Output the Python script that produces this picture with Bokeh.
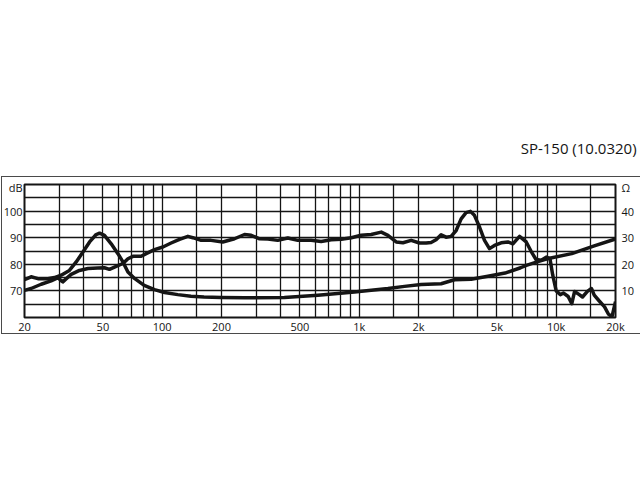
from bokeh.plotting import figure
from bokeh.models import FixedTicker, LinearAxis, Range1d, InlineStyleSheet
from bokeh.embed import file_html
from bokeh.resources import INLINE

# ---- data ----
spl_freq = [20, 21.6, 24.3, 27.3, 29.6, 30.5, 31.3, 32.6, 34.5, 38.0, 42, 47.1, 50.9,
            54.0, 58.4, 63.2, 67, 71, 78.2, 82.9, 91.4, 100.8, 111, 122.4, 135, 143,
            157.7, 177, 203, 232.8, 261.7, 283, 312, 344, 386, 434, 488, 570, 641,
            721, 811, 912, 1023, 1150, 1294, 1399, 1541, 1667, 1836, 2023, 2188,
            2317, 2455, 2605, 2761, 2928, 3105, 3292, 3487, 3670, 3846, 4082, 4326,
            4584, 4861, 5256, 5686, 6029, 6516, 7045, 7470, 7900, 8400, 8900, 9300,
            9600, 10000, 10500, 10900, 11500, 12000, 12400, 13100, 13600, 14400,
            15100, 15600, 16500, 17600, 18400, 19200, 20000]
spl_db = [70.2, 70.9, 72.5, 73.8, 75.0, 74.0, 73.4, 74.6, 76.2, 77.7, 78.4, 78.6, 78.7,
          78.1, 79.2, 80.3, 82.1, 83.0, 83.0, 84.0, 85.5, 86.5, 88.0, 89.4, 90.5, 90.0,
          89.0, 89.0, 88.4, 89.6, 91.2, 90.9, 89.6, 89.5, 89.0, 89.9, 89.0, 89.0, 88.6,
          89.2, 89.4, 90.0, 90.9, 91.2, 92.1, 90.9, 88.4, 88.1, 89.0, 88.0, 88.0,
          88.2, 89.2, 91.1, 90.2, 90.5, 92.7, 97.1, 99.4, 99.9, 98.4, 94.0, 89.0,
          85.9, 87.1, 88.1, 88.4, 87.7, 90.5, 88.4, 84.8, 81.8, 81.5, 82.7, 82.1,
          76.0, 70.0, 68.6, 69.2, 67.9, 65.2, 69.8, 68.6, 67.7, 69.8,
          70.9, 68.4, 66.3, 64.0, 61.3, 60.3, 66.0]

imp_freq = [20, 21.6, 23.4, 26.3, 28.4, 30.7, 33.8, 36.6, 39.6, 42.8, 46.2, 48.1, 50.9,
            55.1, 59.6, 63.2, 67, 72.6, 81, 91.4, 102.8, 120, 140, 163, 199, 262, 417,
            617, 947, 1399, 1698, 2061, 2605, 3047, 3700, 4500, 5500, 6600, 7050, 8000,
            9000, 12000, 15600, 20000]
imp_ohm = [14.2, 15.3, 14.6, 14.6, 15.0, 15.9, 17.7, 20.9, 24.6, 28.4, 31.2, 31.7, 30.9,
           27.7, 24.0, 20.9, 17.1, 14.6, 12.1, 10.5, 9.4, 8.6, 8.0, 7.7, 7.5, 7.4, 7.5,
           8.4, 9.6, 10.9, 11.7, 12.4, 12.7, 14.2, 14.4, 15.5, 16.7, 18.7, 19.6, 20.9,
           22.1, 24.0, 26.9, 29.5]

x_tick_values = [20, 50, 100, 200, 500, 1000, 2000, 5000, 10000, 20000]
x_tick_labels = ["20", "50", "100", "200", "500", "1k", "2k", "5k", "10k", "20k"]
x_grid_values = [20, 30, 40, 50, 60, 70, 80, 90, 100, 150,
                 200, 300, 400, 500, 600, 700, 800, 900, 1000, 1500,
                 2000, 3000, 4000, 5000, 6000, 7000, 8000, 9000, 10000, 15000, 20000]
db_tick_values = [70, 80, 90, 100]
db_grid_values = [65, 70, 75, 80, 85, 90, 95, 100, 105]
ohm_tick_values = [10, 20, 30, 40]
db_unit_label = "dB"
ohm_unit_label = "Ω"
title_text = "SP-150  (10.0320)"

FONT = "Open Sans"
INK = "#151515"

# thin outer frame around the chart body (drawn with CSS on the figure element)
outer_box = InlineStyleSheet(css="""
:host { position: relative; overflow: hidden; }
:host::after { content: ""; position: absolute; left: 1px; right: -10px;
  top: 176px; height: 158px; border: 1.2px solid #4a4a4a;
  box-sizing: border-box; pointer-events: none; }
""")

p = figure(width=640, height=340, x_axis_type="log",
           x_range=Range1d(20, 20000), y_range=Range1d(60, 110),
           output_backend="svg", toolbar_location=None,
           min_border_left=23, min_border_right=25,
           min_border_top=184, min_border_bottom=23,
           y_axis_location=None, stylesheets=[outer_box])
p.background_fill_color = "white"
p.border_fill_color = "white"
p.outline_line_color = INK
p.outline_line_width = 2

p.title.text = title_text
p.title.align = "right"
p.title.text_font = FONT
p.title.text_font_size = "15px"
p.title.text_font_style = "normal"
p.title.text_color = INK
p.title.offset = -25
p.title.standoff = 54

# grid
p.xgrid.ticker = FixedTicker(ticks=x_grid_values)
p.ygrid.ticker = FixedTicker(ticks=db_grid_values)
for g in (p.xgrid, p.ygrid):
    g.grid_line_color = INK
    g.grid_line_width = 1.3
    g.grid_line_alpha = 1

def style_axis(ax, standoff):
    ax.axis_line_color = None
    ax.major_tick_line_color = None
    ax.minor_tick_line_color = None
    ax.major_tick_in = 0
    ax.major_tick_out = 0
    ax.major_label_standoff = standoff
    ax.major_label_text_font = FONT
    ax.major_label_text_font_size = "11px"
    ax.major_label_text_color = INK

# bottom axis
xa = p.xaxis[0]
xa.ticker = FixedTicker(ticks=x_tick_values)
xa.major_label_overrides = {v: s for v, s in zip(x_tick_values, x_tick_labels)}
style_axis(xa, 1)

# left (dB) axis
unit_pos_db = 109
left_ax = LinearAxis(ticker=FixedTicker(ticks=db_tick_values + [unit_pos_db]),
                     major_label_overrides={unit_pos_db: db_unit_label})
style_axis(left_ax, 2)
p.add_layout(left_ax, "left")

# right (ohm) axis
p.extra_y_ranges = {"ohm": Range1d(0, 50)}
unit_pos_ohm = 49
right_ax = LinearAxis(y_range_name="ohm",
                      ticker=FixedTicker(ticks=ohm_tick_values + [unit_pos_ohm]),
                      major_label_overrides={unit_pos_ohm: ohm_unit_label})
style_axis(right_ax, 6)
p.add_layout(right_ax, "right")

# curves
p.line(spl_freq, spl_db, line_color=INK, line_width=3.5, line_join="round")
p.line(imp_freq, imp_ohm, y_range_name="ohm", line_color=INK, line_width=3.5,
       line_join="round")

open("out.html", "w").write(file_html(p, INLINE))
